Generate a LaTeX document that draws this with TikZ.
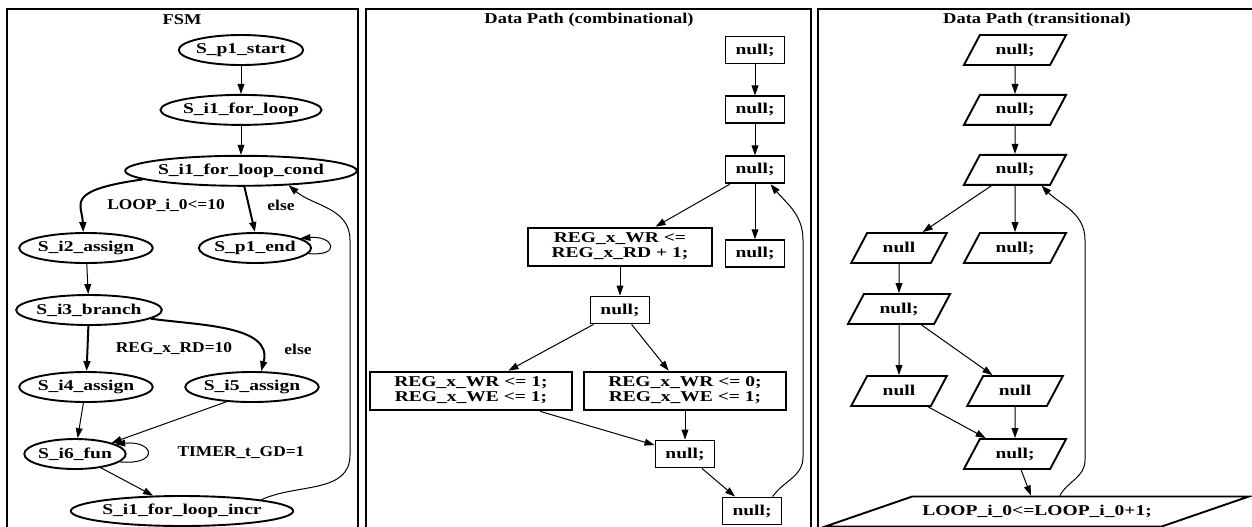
\documentclass[tikz,border=0pt]{standalone}
\usepackage{fontspec}
\setmainfont{Liberation Serif}
\usepackage{graphicx}
\usepackage{tikz}
\usetikzlibrary{positioning, shapes.geometric, arrows.meta}

\newcommand{\dpfont}{\bfseries\fontsize{7.5pt}{7.7pt}\selectfont}
% the drawing is wider than tall: stretch the text sideways
\newcommand{\wt}[1]{\scalebox{1.3}[1]{#1}}
\newcommand{\wtt}[2]{\scalebox{1.3}[1]{\begin{tabular}{@{}c@{}}#1\\#2\end{tabular}}}
\newcommand{\wl}[1]{\scalebox{1.16}[1]{#1}}
\newcommand{\wh}[1]{\scalebox{1.23}[1]{#1}}

\begin{document}
\begin{tikzpicture}[
    x=0.5pt, y=0.5pt,
    >={Triangle[length=5pt, width=3.4pt]},
    every node/.style={font=\dpfont},
    every edge/.style={draw, line width=0.5pt},
    fsmstate/.style={draw, ellipse, line width=0.95pt, inner xsep=-0.5pt, inner ysep=0pt, minimum height=15pt},
    stmt/.style={draw, line width=0.95pt, inner xsep=5pt, inner ysep=2pt, minimum height=13.5pt},
    widestmt/.style={stmt, inner xsep=12pt},
    tstmt/.style={draw, trapezium, trapezium left angle=62, trapezium right angle=118, line width=0.95pt, inner xsep=7.8pt, inner ysep=4pt, text height=5.5pt, text depth=1.5pt},
    guarded/.style={->, line width=1pt},
    backedge/.style={->, line width=0.5pt},
    panel/.style={draw, line width=1pt}]

    \useasboundingbox (0,0) rectangle (1252,-526);

    %%% Panels
    \draw[panel] (7,-9) rectangle (358,-540);
    \draw[panel] (366,-9) rectangle (811,-540);
    \draw[panel] (818,-9) rectangle (1270,-540);

    \node at (182,-20) (fsmtitle) {\wh{FSM}};
    \node at (589,-20) (combtitle) {\wh{Data Path (combinational)}};
    \node at (1037,-20) (transtitle) {\wh{Data Path (transitional)}};

    %%% FSM
    \node at (241,-50) [fsmstate] (pstart) {\wt{S\_p1\_start}};
    \node [fsmstate, below=14pt of pstart] (forloop) {\wt{S\_i1\_for\_loop}};
    \node [fsmstate, below=14.5pt of forloop] (forcond) {\wt{S\_i1\_for\_loop\_cond}};
    \node at (86,-248) [fsmstate] (assign2) {\wt{S\_i2\_assign}};
    \node at (255,-248) [fsmstate] (pend) {\wt{S\_p1\_end}};
    \node at (89,-310) [fsmstate] (branch3) {\wt{S\_i3\_branch}};
    \node at (86,-387) [fsmstate] (assign4) {\wt{S\_i4\_assign}};
    \node at (252,-387) [fsmstate] (assign5) {\wt{S\_i5\_assign}};
    \node at (75,-454) [fsmstate] (fun6) {\wt{S\_i6\_fun}};
    \node at (182,-511) [fsmstate] (forincr) {\wt{S\_i1\_for\_loop\_incr}};

    \node at (166,-205) (gloop) {\wl{LOOP\_i\_0<=10}};
    \node at (281,-205) (gelse) {\wl{else}};
    \node at (174,-349) (gread) {\wl{REG\_x\_RD=10}};
    \node at (298,-349) (gbelse) {\wl{else}};
    \node at (241,-453) (gtimer) {\wl{TIMER\_t\_GD=1}};

    \path (pstart) edge[->] (forloop);
    \path (forloop) edge[->] (forcond);
    \draw[guarded] (forcond.185) .. controls +(188:40pt) and +(92:14pt) .. (assign2.100);
    \path (forcond.282) edge[guarded] (pend.north);
    \path (pend.-6) edge[->, out=-5, in=5, looseness=5] (pend.12);
    \path (assign2) edge[->] (branch3);
    \path (branch3) edge[guarded] (assign4);
    \path (branch3.-8) edge[guarded, out=-8, in=75] (assign5.60);
    \path (assign4) edge[->] (fun6);
    \path (assign5.-150) edge[->] (fun6.17);
    \path (fun6.-10) edge[->, out=-5, in=5, looseness=5.5] (fun6.14);
    \path (fun6) edge[->] (forincr);
    \coordinate (fsmlow) at (350,-455);
    \coordinate (fsmhigh) at (350,-240);
    \draw[backedge] (forincr.north east) to[out=25, in=-90] (fsmlow) -- (fsmhigh) to[out=90, in=-40] (forcond.-17);

    %%% Data path, combinational
    \node at (755,-50) [stmt] (c1) {\wt{null;}};
    \node [stmt, below=15.5pt of c1] (c2) {\wt{null;}};
    \node [stmt, below=15.5pt of c2] (c3) {\wt{null;}};
    \node [stmt, below=27.5pt of c3] (c4) {\wt{null;}};
    \node at (620,-247) [widestmt] (cinc) {\wtt{REG\_x\_WR <=}{REG\_x\_RD + 1;}};
    \node at (620,-310) [stmt] (cmid) {\wt{null;}};
    \node at (471,-391) [widestmt] (cone) {\wtt{REG\_x\_WR <= 1;}{REG\_x\_WE <= 1;}};
    \node at (685,-391) [widestmt] (czero) {\wtt{REG\_x\_WR <= 0;}{REG\_x\_WE <= 1;}};
    \node at (685,-454) [stmt] (clow) {\wt{null;}};
    \node at (752,-511) [stmt] (cbot) {\wt{null;}};

    \path (c1) edge[->] (c2);
    \path (c2) edge[->] (c3);
    \path (c3) edge[->] (cinc);
    \path (c3) edge[->] (c4);
    \path (cinc) edge[->] (cmid);
    \path (cmid) edge[->] (cone);
    \path (cmid) edge[->] (czero);
    \path (cone) edge[->] (clow);
    \path (czero) edge[->] (clow);
    \path (clow) edge[->] (cbot);
    \coordinate (comblow) at (803,-457);
    \coordinate (combhigh) at (803,-240);
    \draw[backedge] (cbot.35) to[out=55, in=-90] (comblow) -- (combhigh) to[out=90, in=-50] (c3.-43);

    %%% Data path, transitional
    \node at (1015,-50) [tstmt] (t1) {\wt{null;}};
    \node [tstmt, below=14pt of t1] (t2) {\wt{null;}};
    \node [tstmt, below=14pt of t2] (t3) {\wt{null;}};
    \node at (899,-248) [tstmt] (t4) {\wt{null}};
    \node at (1015,-248) [tstmt] (t5) {\wt{null;}};
    \node at (899,-309) [tstmt] (t6) {\wt{null;}};
    \node at (899,-391) [tstmt] (t7) {\wt{null}};
    \node at (1015,-391) [tstmt] (t8) {\wt{null}};
    \node at (1015,-454) [tstmt] (t9) {\wt{null;}};
    \node at (1037,-511.5) [tstmt, trapezium left angle=19, trapezium right angle=161, inner xsep=5pt] (t10) {\wt{LOOP\_i\_0<=LOOP\_i\_0+1;}};

    \path (t1) edge[->] (t2);
    \path (t2) edge[->] (t3);
    \path (t3) edge[->] (t4);
    \path (t3) edge[->] (t5);
    \path (t4) edge[->] (t6);
    \path (t6) edge[->] (t7);
    \path (t6) edge[->] (t8);
    \path (t7) edge[->] (t9);
    \path (t8) edge[->] (t9);
    \path (t9) edge[->] (t10);
    \coordinate (translow) at (1085,-460);
    \coordinate (transhigh) at (1085,-240);
    \draw[backedge] (t10.35) to[out=60, in=-90] (translow) -- (transhigh) to[out=90, in=-45] (t3.-31);

\end{tikzpicture}
\end{document}
